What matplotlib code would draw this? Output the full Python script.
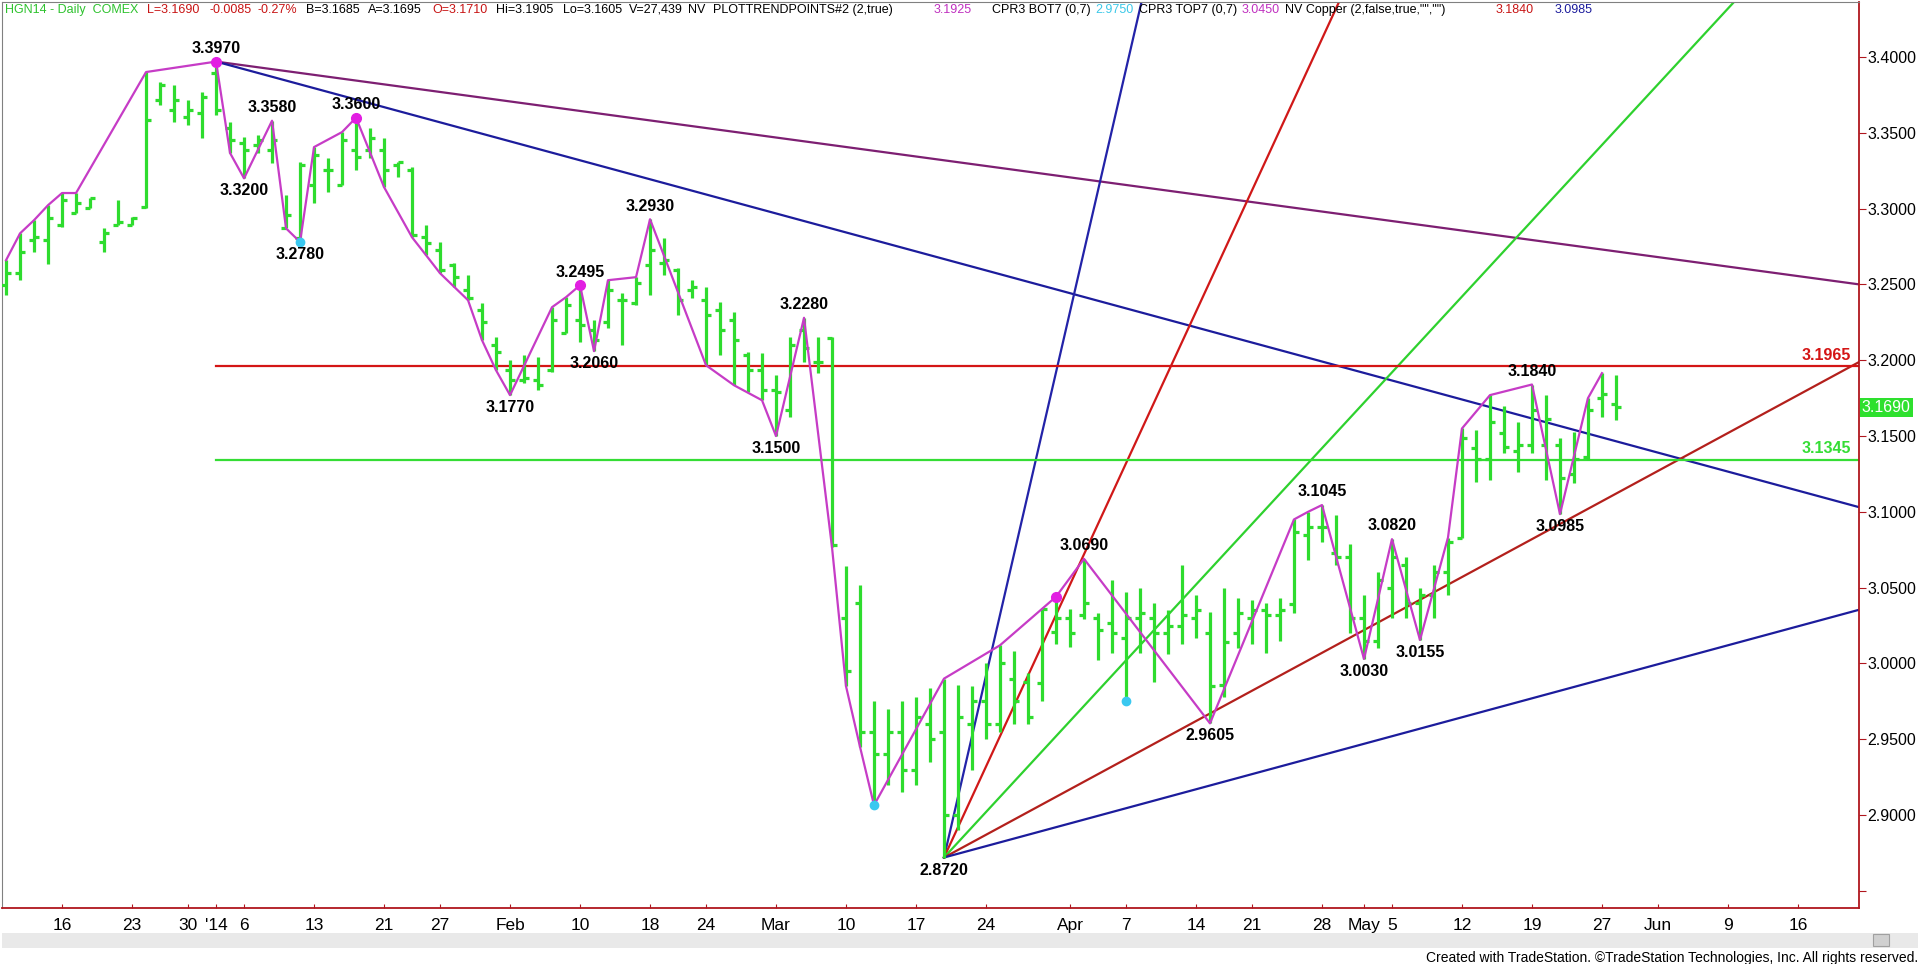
import numpy as np
import pandas as pd
import matplotlib
matplotlib.use("Agg")
import matplotlib.pyplot as plt
from matplotlib.patches import Rectangle

# daily bars HGN14, Dec 10 2013 .. May 28 2014
opens = [3.2495, 3.2574, 3.2792, 3.2792, 3.2890, 3.2970, 3.3003, 3.2779, 3.2890, 3.2890,
         3.3010, 3.3716, 3.3650, 3.3604, 3.3630, 3.3894, 3.3530, 3.3432, 3.3419, 3.3386,
         3.2870, 3.2805, 3.3155, 3.3254, 3.3155, 3.3386, 3.3386, 3.3386, 3.3287, 3.3254,
         3.2811, 3.2726, 3.2627, 3.2462, 3.2330, 3.2099, 3.1934, 3.1868, 3.1868, 3.1934,
         3.2178, 3.2264, 3.2198, 3.2251, 3.2396, 3.2376, 3.2627, 3.2640, 3.2594, 3.2462,
         3.2396, 3.2330, 3.2264, 3.2033, 3.1934, 3.1802, 3.1670, 3.2198, 3.1987, 3.2145,
         3.0300, 3.0400, 2.9550, 2.9400, 2.9550, 2.9300, 2.9600, 2.9550, 2.9000, 2.9600,
         2.9750, 2.9600, 2.9900, 2.9880, 2.9870, 3.0210, 3.0300, 3.0320, 3.0300, 3.0270,
         3.0170, 3.0300, 3.0300, 3.0200, 3.0250, 3.0300, 3.0200, 2.9860, 3.0200, 3.0300,
         3.0350, 3.0320, 3.0390, 3.0850, 3.0900, 3.0730, 3.0700, 3.0300, 3.0150, 3.0500,
         3.0650, 3.0400, 3.0450, 3.0600, 3.0830, 3.1420, 3.1350, 3.1520, 3.1400, 3.1440,
         3.1440, 3.1440, 3.1250, 3.1360, 3.1750, 3.1710]
highs = [3.2660, 3.2837, 3.2924, 3.3023, 3.3103, 3.3103, 3.3069, 3.2870, 3.3056, 3.2944,
         3.3901, 3.3835, 3.3815, 3.3716, 3.3769, 3.3970, 3.3570, 3.3472, 3.3485, 3.3580,
         3.3090, 3.3307, 3.3406, 3.3334, 3.3505, 3.3600, 3.3530, 3.3466, 3.3307, 3.3274,
         3.2890, 3.2779, 3.2640, 3.2561, 3.2376, 3.2152, 3.2000, 3.2033, 3.2020, 3.2350,
         3.2416, 3.2495, 3.2264, 3.2528, 3.2442, 3.2548, 3.2930, 3.2805, 3.2607, 3.2528,
         3.2482, 3.2383, 3.2317, 3.2053, 3.2046, 3.1901, 3.2152, 3.2280, 3.2152, 3.2152,
         3.0640, 3.0520, 2.9750, 2.9700, 2.9750, 2.9780, 2.9840, 2.9900, 2.9860, 2.9850,
         3.0000, 3.0120, 3.0080, 2.9940, 3.0360, 3.0440, 3.0360, 3.0690, 3.0330, 3.0550,
         3.0470, 3.0500, 3.0400, 3.0350, 3.0650, 3.0450, 3.0340, 3.0500, 3.0430, 3.0420,
         3.0400, 3.0430, 3.0950, 3.1000, 3.1045, 3.0980, 3.0790, 3.0450, 3.0600, 3.0820,
         3.0700, 3.0500, 3.0650, 3.0830, 3.1550, 3.1540, 3.1770, 3.1700, 3.1590, 3.1840,
         3.1770, 3.1490, 3.1530, 3.1750, 3.1915, 3.1905]
lows = [3.2429, 3.2528, 3.2713, 3.2634, 3.2877, 3.2970, 3.3003, 3.2713, 3.2890, 3.2890,
        3.3003, 3.3683, 3.3570, 3.3550, 3.3466, 3.3617, 3.3367, 3.3200, 3.3367, 3.3300,
        3.2870, 3.2780, 3.3036, 3.3109, 3.3155, 3.3254, 3.3334, 3.3142, 3.3208, 3.2811,
        3.2693, 3.2574, 3.2482, 3.2396, 3.2132, 3.1934, 3.1770, 3.1848, 3.1802, 3.1921,
        3.2178, 3.2119, 3.2060, 3.2211, 3.2099, 3.2363, 3.2429, 3.2561, 3.2297, 3.2410,
        3.1967, 3.2033, 3.1835, 3.1789, 3.1736, 3.1500, 3.1624, 3.1987, 3.1914, 3.0766,
        2.9850, 2.9450, 2.9065, 2.9200, 2.9150, 2.9200, 2.9350, 2.8720, 2.8900, 2.9300,
        2.9500, 2.9550, 2.9600, 2.9600, 2.9750, 3.0130, 3.0110, 3.0290, 3.0020, 3.0070,
        2.9750, 3.0070, 2.9880, 3.0060, 3.0130, 3.0170, 2.9605, 2.9780, 3.0100, 3.0130,
        3.0070, 3.0150, 3.0330, 3.0680, 3.0800, 3.0650, 3.0200, 3.0030, 3.0100, 3.0300,
        3.0300, 3.0155, 3.0300, 3.0450, 3.0830, 3.1200, 3.1210, 3.1390, 3.1260, 3.1390,
        3.1210, 3.0985, 3.1190, 3.1340, 3.1625, 3.1605]
closes = [3.2574, 3.2713, 3.2811, 3.2937, 3.3056, 3.3036, 3.3069, 3.2837, 3.2910, 3.2937,
          3.3584, 3.3815, 3.3716, 3.3650, 3.3736, 3.3650, 3.3452, 3.3386, 3.3452, 3.3452,
          3.2957, 3.3287, 3.3353, 3.3254, 3.3452, 3.3340, 3.3466, 3.3254, 3.3307, 3.2824,
          3.2772, 3.2594, 3.2548, 3.2410, 3.2251, 3.2053, 3.1868, 3.1881, 3.1835, 3.2264,
          3.2363, 3.2231, 3.2132, 3.2462, 3.2396, 3.2508, 3.2726, 3.2660, 3.2396, 3.2482,
          3.2297, 3.2198, 3.2132, 3.1934, 3.1802, 3.1789, 3.2099, 3.2079, 3.1987, 3.0780,
          2.9950, 2.9550, 2.9400, 2.9550, 2.9300, 2.9650, 2.9500, 2.9000, 2.9650, 2.9750,
          2.9600, 3.0000, 2.9750, 2.9650, 3.0360, 3.0300, 3.0200, 3.0400, 3.0220, 3.0200,
          3.0300, 3.0330, 3.0200, 3.0250, 3.0320, 3.0350, 2.9850, 3.0140, 3.0330, 3.0350,
          3.0320, 3.0350, 3.0870, 3.0900, 3.0900, 3.0700, 3.0300, 3.0150, 3.0550, 3.0700,
          3.0400, 3.0450, 3.0600, 3.0800, 3.1490, 3.1350, 3.1590, 3.1430, 3.1440, 3.1670,
          3.1610, 3.1220, 3.1350, 3.1670, 3.1775, 3.1690]

holidays = ["2013-12-25", "2014-01-01", "2014-01-20", "2014-02-17", "2014-04-18", "2014-05-26"]

# swing points joined by the trend-point line (bar index, high or low)
zigzag = [(0, "H"), (1, "H"), (2, "H"), (3, "H"), (4, "H"), (5, "H"), (10, "H"), (15, "H"),
          (16, "L"), (17, "L"), (19, "H"), (20, "L"), (21, "L"), (22, "H"), (24, "H"), (25, "H"),
          (27, "L"), (29, "L"), (30, "L"), (31, "L"), (33, "L"), (34, "L"), (35, "L"), (36, "L"),
          (39, "H"), (40, "H"), (41, "H"), (42, "L"), (43, "H"), (45, "H"), (46, "H"),
          (50, "L"), (52, "L"), (54, "L"), (55, "L"), (57, "H"), (59, "L"), (60, "L"), (61, "L"),
          (62, "L"), (67, "H"), (71, "H"), (74, "H"), (75, "H"), (77, "H"), (86, "L"),
          (92, "H"), (93, "H"), (94, "H"), (97, "L"), (99, "H"), (101, "L"), (103, "H"),
          (104, "H"), (106, "H"), (109, "H"), (111, "L"), (113, "H"), (114, "H")]

# labelled swing values
swing_labels = [(15, "H", "3.3970"), (19, "H", "3.3580"), (17, "L", "3.3200"), (21, "L", "3.2780"),
                (25, "H", "3.3600"), (36, "L", "3.1770"), (41, "H", "3.2495"), (42, "L", "3.2060"),
                (46, "H", "3.2930"), (57, "H", "3.2280"), (55, "L", "3.1500"), (67, "L", "2.8720"),
                (77, "H", "3.0690"), (86, "L", "2.9605"), (94, "H", "3.1045"), (97, "L", "3.0030"),
                (99, "H", "3.0820"), (101, "L", "3.0155"), (109, "H", "3.1840"), (111, "L", "3.0985")]

magenta_dots = [(15, "H"), (25, "H"), (41, "H"), (75, "H")]
cyan_dots = [(21, "L"), (62, "L"), (80, "L")]

# trend lines: (start index, start price, end index, end price)
downtrend_purple = (15, 3.3970, 132.4, 3.2500)
downtrend_blue = (15, 3.3970, 132.4, 3.1030)
fan_origin = (67, 2.8720)
fan_slopes = [0.04, 0.02, 0.01, 0.005, 0.0025]
fan_colors = ["#2323a8", "#d01818", "#2ed12e", "#b3201c", "#1c1c9c"]

level_red = 3.1965
level_green = 3.1345
last_price = 3.1690

tick_dates = ["2013-12-16", "2013-12-23", "2013-12-30", "2014-01-02", "2014-01-06", "2014-01-13",
              "2014-01-21", "2014-01-27", "2014-02-03", "2014-02-10", "2014-02-18", "2014-02-24",
              "2014-03-03", "2014-03-10", "2014-03-17", "2014-03-24", "2014-04-01", "2014-04-07",
              "2014-04-14", "2014-04-21", "2014-04-28", "2014-05-01", "2014-05-05", "2014-05-12",
              "2014-05-19", "2014-05-27", "2014-06-02", "2014-06-09", "2014-06-16"]
tick_labels = ["16", "23", "30", "'14", "6", "13", "21", "27", "Feb", "10", "18", "24", "Mar",
               "10", "17", "24", "Apr", "7", "14", "21", "28", "May", "5", "12", "19", "27",
               "Jun", "9", "16"]
month_ticks = ["'14", "Feb", "Mar", "Apr", "May", "Jun"]

# header pieces: (x pixel, text, colour)
header = [(4, "HGN14 - Daily  COMEX", "#2ec22e"), (147, "L=3.1690", "#c81414"),
          (209, "-0.0085", "#c81414"), (257, "-0.27%", "#c81414"), (306, "B=3.1685", "black"),
          (368, "A=3.1695", "black"), (432, "O=3.1710", "#c81414"), (496, "Hi=3.1905", "black"),
          (563, "Lo=3.1605", "black"), (629, "V=27,439", "black"), (685, "NV", "black"),
          (713, "PLOTTRENDPOINTS#2 (2,true)", "black"), (934, "3.1925", "#c030c0"),
          (992, "CPR3 BOT7 (0,7)", "black"), (1082, "2.9750", "#3cc8e8"),
          (1131, "CPR3 TOP7 (0,7)", "black"), (1222, "3.0450", "#c030c0"),
          (1274, 'NV Copper (2,false,true,"","")', "black"), (1496, "3.1840", "#c81414"),
          (1555, "3.0985", "#1c1c9c")]

GREEN = "#2edc2e"
cal = [d for d in pd.bdate_range("2013-12-10", "2014-06-30") if d.strftime("%Y-%m-%d") not in holidays]
cal_pos = {d.strftime("%Y-%m-%d"): i for i, d in enumerate(cal)}

fig = plt.figure(figsize=(19.2, 9.64), dpi=100)
W, H = 1920, 964
ax = fig.add_axes([2 / W, (H - 908) / H, 1857 / W, 906 / H])
ax.set_xlim(-0.29, 132.36)
ax.set_ylim(2.8387, 3.4363)

x = np.arange(len(opens))
ax.vlines(x, lows, highs, color=GREEN, lw=2.3, zorder=3)
ax.hlines(opens, x - 0.33, x, color=GREEN, lw=2.3, zorder=3)
ax.hlines(closes, x, x + 0.33, color=GREEN, lw=2.3, zorder=3)

def pivot_price(i, side):
    return highs[i] if side == "H" else lows[i]

# long trend lines
for (x0, y0, x1, y1), col in [(downtrend_purple, "#7d1f72"), (downtrend_blue, "#1c1c9c")]:
    ax.plot([x0, x1], [y0, y1], color=col, lw=1.6, zorder=2)

xe = 132.36
for s, col in zip(fan_slopes, fan_colors):
    ax.plot([fan_origin[0], xe], [fan_origin[1], fan_origin[1] + s * (xe - fan_origin[0])],
            color=col, lw=1.6, zorder=2)

ax.plot([15, xe], [level_red, level_red], color="#d41515", lw=1.6, zorder=2)
ax.plot([15, xe], [level_green, level_green], color="#35dd35", lw=1.6, zorder=2)
ax.annotate(f"{level_red:.4f}", (131.8, level_red), xytext=(0, 7.5), textcoords="offset points",
            color="#d41515", fontsize=11.5, fontweight="bold", ha="right", va="center",
            family="Liberation Sans")
ax.annotate(f"{level_green:.4f}", (131.8, level_green), xytext=(0, 8), textcoords="offset points",
            color="#35dd35", fontsize=11.5, fontweight="bold", ha="right", va="center",
            family="Liberation Sans")

zx = [i for i, s in zigzag]
zy = [pivot_price(i, s) for i, s in zigzag]
ax.plot(zx, zy, color="#c63cc6", lw=1.6, zorder=4)

for i, s in magenta_dots:
    ax.plot(i, pivot_price(i, s), "o", color="#e21ee2", ms=7, zorder=5)
for i, s in cyan_dots:
    ax.plot(i, pivot_price(i, s), "o", color="#3ac8f0", ms=6, zorder=5)

for i, s, txt in swing_labels:
    off = 9.5 if s == "H" else -9
    ax.annotate(txt, (i, pivot_price(i, s)), xytext=(0, off), textcoords="offset points",
                ha="center", va="center", fontsize=11.5,
                fontweight="bold", family="Liberation Sans", zorder=6)

# axes styling
for sp in ["left", "top"]:
    ax.spines[sp].set_color("#808080")
for sp in ["right", "bottom"]:
    ax.spines[sp].set_color("#b0161e")
    ax.spines[sp].set_linewidth(1.3)
ax.yaxis.tick_right()
yt = np.arange(2.85, 3.401, 0.05)
ax.set_yticks(yt)
ax.set_yticklabels(["" if v < 2.875 else f"{v:.4f}" for v in yt])
ax.tick_params(axis="y", direction="out", length=5, color="#b0161e", labelsize=11.5, pad=1)
for t in ax.get_yticklabels():
    t.set_family("Liberation Sans")

ax.set_xticks([cal_pos[d] for d in tick_dates])
ax.set_xticklabels(tick_labels, fontsize=12.5, family=["Liberation Sans Narrow", "Liberation Sans"])
ax.tick_params(axis="x", direction="in", length=3, color="#b0161e", pad=7)
ax.set_xticks([cal_pos[d] for d, l in zip(tick_dates, tick_labels) if l in month_ticks], minor=True)
ax.tick_params(axis="x", which="minor", direction="out", length=8, color="#b0161e")

# last price marker
ax.text(1.0015, last_price, f"{last_price:.4f}", transform=ax.get_yaxis_transform(),
        ha="left", va="center", color="white", fontsize=11.5, family="Liberation Sans",
        bbox=dict(boxstyle="square,pad=0.12", fc="#2ee02e", ec="none"), clip_on=False)

# header: each piece at its spot, pushed right if the previous one runs into it
renderer = fig.canvas.get_renderer()
prev_end = 0
for px, txt, col in header:
    t = fig.text(max(px, prev_end + 5) / W, 1 - 10 / H, txt, color=col, fontsize=9, va="center",
                 family=["Liberation Sans Narrow", "Liberation Sans"])
    prev_end = t.get_window_extent(renderer).x1

# scroll bar and footer
fig.patches.append(Rectangle((2 / W, (H - 948) / H), 1916 / W, 15 / H, transform=fig.transFigure,
                             fc="#e9e9e9", ec="none"))
fig.patches.append(Rectangle((1873 / W, (H - 946) / H), 16 / W, 12 / H, transform=fig.transFigure,
                             fc="#d0d0d0", ec="#a0a0a0", lw=0.8))
fig.text(1918 / W, 1 - 958 / H, "Created with TradeStation. \u00a9TradeStation Technologies, Inc. All rights reserved.",
         ha="right", va="center", fontsize=10, family=["Liberation Sans Narrow", "Liberation Sans"])

fig.savefig("out.png", dpi=100, facecolor="white")
